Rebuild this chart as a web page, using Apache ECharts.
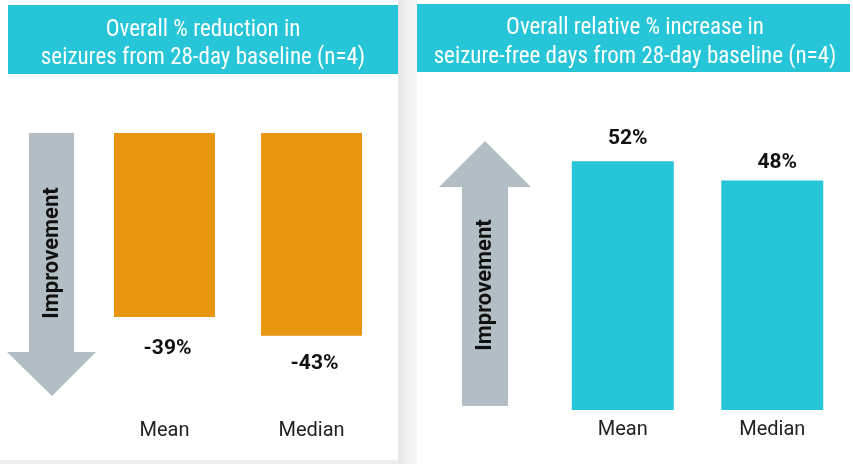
<!DOCTYPE html>
<html><head><meta charset="utf-8">
<script src="https://cdn.jsdelivr.net/npm/echarts@6/dist/echarts.min.js"></script>
<style>html,body{margin:0;padding:0;background:#fff}#c{width:853px;height:464px}</style>
</head><body><div id="c"></div>
<script>
const categories = ['Mean', 'Median'];
const reductionValues = [-39, -43];
const increaseValues = [52, 48];
const leftTitle = 'Overall % reduction in\nseizures from 28-day baseline (n=4)';
const rightTitle = 'Overall relative % increase in\nseizure-free days from 28-day baseline (n=4)';
const arrowText = 'Improvement';

const chart = echarts.init(document.getElementById('c'), null, {renderer: 'canvas'});
const headFont = '"Roboto Condensed","Liberation Sans Narrow","DejaVu Sans Condensed",Roboto,sans-serif';
const ORANGE = '#E8960F', TEAL = '#26C6D8', GREY = '#B2BEC4';

chart.setOption({
  animation: false,
  backgroundColor: '#ffffff',
  graphic: [
    {type: 'rect', shape: {x: 398, y: 0, width: 19, height: 464}, style: {fill: {type:'linear',x:0,y:0,x2:1,y2:0,colorStops:[{offset:0,color:'#e6e6e6'},{offset:0.5,color:'#f1f1f1'},{offset:1,color:'#f6f6f6'}]}}, z: -10},
    {type: 'rect', shape: {x: 0, y: 460, width: 398, height: 4}, style: {fill: '#ededed'}, z: -10},
    {type: 'rect', shape: {x: 8, y: 5, width: 390, height: 69}, style: {fill: TEAL}},
    {type: 'rect', shape: {x: 417, y: 4, width: 433, height: 68}, style: {fill: TEAL}},
    {type: 'text', style: {text: leftTitle, fill: '#fff', font: '23px ' + headFont, textAlign: 'center', lineHeight: 28, x: 203, y: 16}},
    {type: 'text', style: {text: rightTitle, fill: '#fff', font: '23px ' + headFont, textAlign: 'center', lineHeight: 29, x: 635, y: 14}},
    {type: 'polygon', shape: {points: [[29,133],[74,133],[74,352],[96,352],[52,396],[7,352],[29,352]]}, style: {fill: GREY}},
    {type: 'polygon', shape: {points: [[462,406],[508,406],[508,187],[531,187],[485,141],[439,187],[462,187]]}, style: {fill: GREY}},
    {type: 'text', x: 52, y: 253, rotation: Math.PI/2, style: {text: arrowText, fill: '#111', font: 'bold 22px Roboto, sans-serif', textAlign: 'center', textVerticalAlign: 'middle'}},
    {type: 'text', x: 485, y: 285, rotation: Math.PI/2, style: {text: arrowText, fill: '#111', font: 'bold 22px Roboto, sans-serif', textAlign: 'center', textVerticalAlign: 'middle'}}
  ],
  grid: [
    {left: 91, width: 294, top: 133, height: 283},
    {left: 548, width: 299, top: 123, height: 287}
  ],
  xAxis: [
    {gridIndex: 0, type: 'category', data: categories, position: 'bottom', axisLine: {show: false}, axisTick: {show: false}, axisLabel: {margin: 5, fontSize: 20, color: '#222', fontFamily: 'Roboto'}},
    {gridIndex: 1, type: 'category', data: categories, axisLine: {show: false}, axisTick: {show: false}, axisLabel: {margin: 10, fontSize: 20, color: '#222', fontFamily: 'Roboto'}}
  ],
  yAxis: [
    {gridIndex: 0, type: 'value', min: -60, max: 0, show: false},
    {gridIndex: 1, type: 'value', min: 0, max: 60, show: false}
  ],
  series: [
    {type: 'bar', xAxisIndex: 0, yAxisIndex: 0, barWidth: 101, itemStyle: {color: ORANGE},
     label: {show: true, position: 'bottom', formatter: '{c}%', fontSize: 21, fontWeight: 'bold', color: '#111', fontFamily: 'Roboto'},
     data: reductionValues.map((v, i) => ({value: v, label: {distance: [18, 14][i], offset: [3, 3]}}))},
    {type: 'bar', xAxisIndex: 1, yAxisIndex: 1, barWidth: 102, itemStyle: {color: TEAL},
     label: {show: true, position: 'top', formatter: '{c}%', fontSize: 21, fontWeight: 'bold', color: '#111', fontFamily: 'Roboto'},
     data: increaseValues.map((v, i) => ({value: v, label: {distance: [12, 7][i], offset: [5, 0]}}))}
  ]
});
</script></body></html>
